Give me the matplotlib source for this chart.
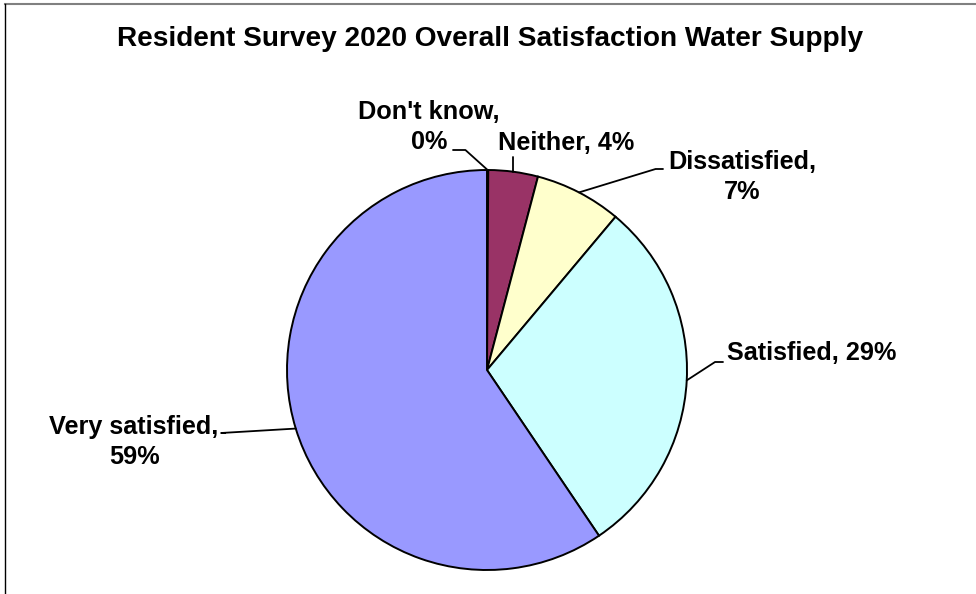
import numpy as np
import matplotlib
matplotlib.use("Agg")
import matplotlib.pyplot as plt
from matplotlib.lines import Line2D

# 数据：顺时针从正上方开始
categories = ["Don't know", "Neither", "Dissatisfied", "Satisfied", "Very satisfied"]
shares = [0.1, 4.0, 7.0, 29.4, 59.4]
colors = ["#660066", "#993366", "#FFFFCC", "#CCFFFF", "#9999FF"]
title = "Resident Survey 2020 Overall Satisfaction Water Supply"

# 版式（像素坐标，画布 976x594）
W, H = 976, 594
CX, CY, R = 487, 370, 200
# 标签文字中心 / 对齐方式 / 引线终点 / 引线斜角
label_pos = [(429, 127), (566, 143), (742, 177), (727, 353), (134, 442)]
label_ha = ["center", "center", "center", "left", "center"]
label_wrap = [True, False, True, False, True]
leader_end = [(453, 150), (513, 157), (663, 169), (723, 362), (225, 433)]
leader_ang = [-42, 90, 17, 33, 3.4]


def px(p):
    """像素 -> 数据坐标（饼图半径为 1）。"""
    return ((p[0] - CX) / R, (CY - p[1]) / R)


plt.rcParams["font.family"] = ["Liberation Sans", "DejaVu Sans"]
fig = plt.figure(figsize=(W / 100, H / 100), dpi=100)
ax = fig.add_axes([0, 0, 1, 1])

wedges, _ = ax.pie(
    shares, colors=colors, startangle=90, counterclock=False, radius=1,
    wedgeprops=dict(edgecolor="black", linewidth=1.4),
)
# pie 会重设坐标范围，之后再设
ax.set_xlim(-CX / R, (W - CX) / R)
ax.set_ylim((CY - H) / R, CY / R)
ax.set_aspect("auto")
ax.axis("off")

total = sum(shares)
for i, (w, name, v) in enumerate(zip(wedges, categories, shares)):
    mid = np.deg2rad((w.theta1 + w.theta2) / 2)
    edge = (np.cos(mid), np.sin(mid))
    pct = f"{round(v / total * 100):.0f}%"
    txt = f"{name},\n{pct}" if label_wrap[i] else f"{name}, {pct}"
    tx, ty = px(label_pos[i])
    ax.text(tx, ty, txt, ha=label_ha[i], va="center", fontsize=18.2,
            fontweight="bold", linespacing=1.35)
    ax.annotate(
        "", xy=edge, xytext=px(leader_end[i]),
        arrowprops=dict(arrowstyle="-", color="black", lw=1.3, shrinkA=0, shrinkB=0,
                        connectionstyle=f"angle,angleA=0,angleB={leader_ang[i]},rad=0"),
    )

fig.text(490 / W, 1 - 39 / H, title, ha="center", va="center",
         fontsize=20.2, fontweight="bold")

# 外框
fig.add_artist(Line2D([5 / W, 975 / W], [1 - 4 / H, 1 - 4 / H],
                      transform=fig.transFigure, color="#808080", lw=1.5))
fig.add_artist(Line2D([5 / W, 5 / W], [0, 1 - 4 / H],
                      transform=fig.transFigure, color="black", lw=1.0))

fig.savefig("out.png", dpi=100)
